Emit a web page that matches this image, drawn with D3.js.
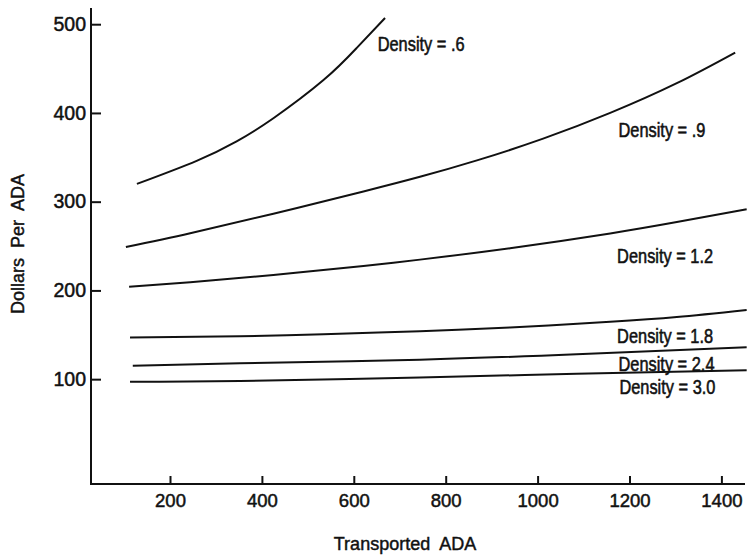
<!DOCTYPE html>
<html>
<head>
<meta charset="utf-8">
<script src="https://cdn.jsdelivr.net/npm/d3@7"></script>
<style>
  html, body { margin: 0; padding: 0; background: #fff; }
  svg { display: block; }
  .tick text { font-family: "Liberation Sans", Arial, sans-serif; fill: #111; stroke: #111; stroke-width: 0.5px; }
  .lbl { font-family: "Liberation Sans", Arial, sans-serif; fill: #111; stroke: #111; stroke-width: 0.55px; }
  .title { font-family: "Liberation Sans", Arial, sans-serif; fill: #111; stroke: #111; stroke-width: 0.45px; white-space: pre; }
</style>
</head>
<body>
<svg id="chart" width="747" height="557"></svg>
<script>
// ---- data ----
const xTicks = [200, 400, 600, 800, 1000, 1200, 1400];
const yTicks = [100, 200, 300, 400, 500];

const density06X = [128, 258, 345, 425, 534, 606, 668];
const density06Y = [320, 346, 368, 394, 437, 473, 507];

const density09X = [104, 244, 425, 621, 744, 868, 1012, 1158, 1303, 1430];
const density09Y = [249, 264.5, 286.5, 311.5, 328, 346.5, 371, 400, 433.5, 468];

const density12X = [111, 244, 425, 621, 744, 940, 1158, 1303, 1455];
const density12Y = [204, 209.3, 217.4, 227.6, 234.7, 247.6, 264.2, 277, 291.5];

const density18X = [113, 352, 534, 744, 940, 1158, 1303, 1455];
const density18Y = [147, 148.3, 150.6, 154, 158.3, 164.6, 170, 178];

const density24X = [119, 352, 744, 1085, 1455];
const density24Y = [115, 118, 122, 128, 136];

const density30X = [113, 352, 744, 1085, 1455];
const density30Y = [97, 98, 102, 106, 110];

const seriesNames = ["Density = .6", "Density = .9", "Density = 1.2", "Density = 1.8", "Density = 2.4", "Density = 3.0"];

// label anchors in data units (x = Transported ADA, y = Dollars per ADA)
const labelX = [652, 1176, 1173, 1173, 1176, 1178];
const labelY = [470, 372.6, 230.6, 140.4, 109.5, 83.3];

const xTitle = "Transported  ADA";
const yTitle = "Dollars  Per  ADA";

// ---- build ----
const seriesX = [density06X, density09X, density12X, density18X, density24X, density30X];
const seriesY = [density06Y, density09Y, density12Y, density18Y, density24Y, density30Y];
const series = seriesNames.map((name, i) => ({
  name,
  points: seriesX[i].map((xv, j) => [xv, seriesY[i][j]]),
  lx: labelX[i], ly: labelY[i]
}));

const svg = d3.select("#chart");
const x = d3.scaleLinear().domain([0, 1460]).range([78.1, 78.1 + 1460 * 0.4595]);
const y = d3.scaleLinear().domain([0, 500]).range([467.9, 24.2]);

const axisX = 91, axisY = 484;

// axis lines
svg.append("line").attr("x1", axisX).attr("x2", axisX).attr("y1", 8).attr("y2", axisY + 1)
  .attr("stroke", "#111").attr("stroke-width", 2);
svg.append("line").attr("x1", axisX - 1).attr("x2", 745).attr("y1", axisY).attr("y2", axisY)
  .attr("stroke", "#111").attr("stroke-width", 2);

// y axis ticks (pointing inward)
const gy = svg.append("g").attr("transform", `translate(${axisX},0)`)
  .call(d3.axisLeft(y).tickValues(yTicks).tickSize(-10).tickPadding(5).tickFormat(d3.format("d")));
gy.select(".domain").remove();
gy.selectAll(".tick line").attr("stroke", "#111").attr("stroke-width", 2);
gy.selectAll(".tick text").attr("font-size", "19.5px");

// x axis ticks (pointing inward)
const gx = svg.append("g").attr("transform", `translate(0,${axisY})`)
  .call(d3.axisBottom(x).tickValues(xTicks).tickSize(-8).tickPadding(10).tickFormat(d3.format("d")));
gx.select(".domain").remove();
gx.selectAll(".tick line").attr("stroke", "#111").attr("stroke-width", 2);
gx.selectAll(".tick text").attr("font-size", "18.5px");

// curves
const line = d3.line().x(d => x(d[0])).y(d => y(d[1])).curve(d3.curveNatural);
svg.append("g").selectAll("path").data(series).join("path")
  .attr("d", d => line(d.points))
  .attr("fill", "none").attr("stroke", "#111").attr("stroke-width", 2);

// curve labels (condensed lettering)
svg.append("g").selectAll("text").data(series).join("text")
  .attr("class", "lbl")
  .attr("transform", d => `translate(${x(d.lx)},${y(d.ly)}) scale(0.84,1)`)
  .attr("font-size", "19.5px")
  .text(d => d.name);

// axis titles
svg.append("text").attr("class", "title")
  .attr("x", 405).attr("y", 550).attr("text-anchor", "middle")
  .attr("font-size", "18px").text(xTitle);
svg.append("text").attr("class", "title")
  .attr("transform", "translate(24,244) rotate(-90)").attr("text-anchor", "middle")
  .attr("font-size", "18px").text(yTitle);
</script>
</body>
</html>
